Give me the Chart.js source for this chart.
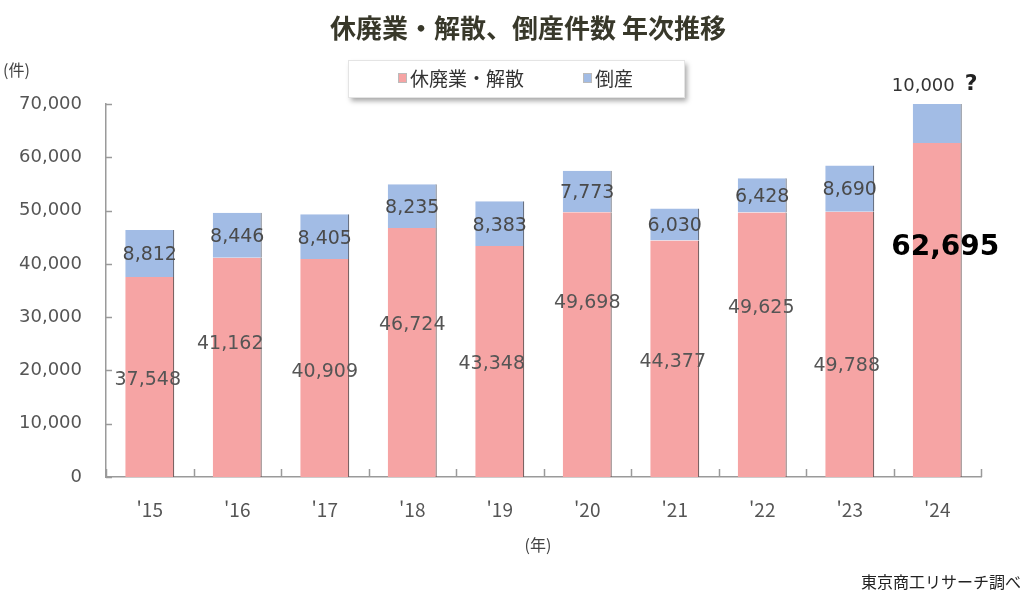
<!DOCTYPE html>
<html lang="ja">
<head>
<meta charset="utf-8">
<script src="https://cdn.jsdelivr.net/npm/chart.js@4.4.1/dist/chart.umd.min.js"></script>
<style>
body{margin:0;background:#fff}
#wrap{width:1027px;height:600px}
</style>
</head>
<body>
<div id="wrap"><canvas id="myChart" width="1027" height="600"></canvas></div>
<script>
// データ
var years = ["'15","'16","'17","'18","'19","'20","'21","'22","'23","'24"]
var kyuhaigyo = [37548,41162,40909,46724,43348,49698,44377,49625,49788,62695]
var tosan = [8812,8446,8405,8235,8383,7773,6030,6428,8690,7305]
var tosanLabels = ["8,812","8,446","8,405","8,235","8,383","7,773","6,030","6,428","8,690","10,000"]
var kyuhaigyoLabels = ["37,548","41,162","40,909","46,724","43,348","49,698","44,377","49,625","49,788","62,695"]
var seriesNames = ["休廃業・解散","倒産"]
var yMax = 70000
var yStep = 10000

// ラベルのずれ (px)
var redDx = [-2,-7,0,0,-8,0,-2,-1,-3,8]
var redDy = [3,-23,4,-27,3,-42,3,-37,22,-62]

var RED = "#F6A4A4"
var BLUE = "#A2BCE5"
var AXIS = "#9a9a9a"
var NUM_FONT = "'DejaVu Sans', Verdana, sans-serif"
var JP_FONT = "'Noto Sans CJK JP', sans-serif"

var extras = {
    id: "extras",
    beforeDraw: function(chart){
        var ctx = chart.ctx
        ctx.save()
        ctx.fillStyle = "#fff"
        ctx.fillRect(0,0,chart.width,chart.height)
        // タイトル
        ctx.fillStyle = "#38382a"
        ctx.font = "bold 26px " + JP_FONT
        ctx.textAlign = "center"
        ctx.textBaseline = "middle"
        ctx.fillText("休廃業・解散、倒産件数 年次推移", 528, 28)
        // 凡例
        ctx.shadowColor = "rgba(0,0,0,0.35)"
        ctx.shadowBlur = 5
        ctx.shadowOffsetX = 3
        ctx.shadowOffsetY = 4
        ctx.fillStyle = "#fff"
        ctx.fillRect(348,60,336,37)
        ctx.shadowColor = "transparent"
        ctx.strokeStyle = "#e4e4e4"
        ctx.lineWidth = 1
        ctx.strokeRect(348.5,60.5,336,37)
        var cols = [RED,BLUE]
        var lx = [398,583]
        ctx.font = "19px " + JP_FONT
        ctx.textAlign = "left"
        for(var i=0;i<2;i++){
            ctx.fillStyle = cols[i]
            ctx.fillRect(lx[i],73,9,10)
            ctx.strokeStyle = "#bbb"
            ctx.strokeRect(lx[i]+0.5,73.5,8,9)
            ctx.fillStyle = "#333"
            ctx.fillText(seriesNames[i], lx[i]+12, 79)
        }
        // 単位など
        ctx.font = "16px " + JP_FONT
        ctx.fillStyle = "#444"
        ctx.fillText("(件)", 3, 70)
        ctx.textAlign = "center"
        ctx.fillText("(年)", 538, 545)
        ctx.textAlign = "right"
        ctx.fillStyle = "#222"
        ctx.fillText("東京商工リサーチ調べ", 1021, 582)
        ctx.restore()
    },
    afterDraw: function(chart){
        var ctx = chart.ctx
        var a = chart.chartArea
        var ys = chart.scales.y
        ctx.save()
        ctx.strokeStyle = AXIS
        ctx.lineWidth = 1.5
        ctx.beginPath()
        // y軸の目盛り (内向き)
        for(var v=0;v<=yMax;v+=yStep){
            var py = Math.round(ys.getPixelForValue(v)) + 0.5
            ctx.moveTo(a.left, py)
            ctx.lineTo(a.left+6, py)
        }
        // x軸の目盛り (区切り)
        var n = years.length
        for(var i=0;i<=n;i++){
            var px = Math.round(a.left + i*(a.right-a.left)/n) + 0.5
            ctx.moveTo(px, a.bottom)
            ctx.lineTo(px, a.bottom-8)
        }
        ctx.stroke()

        // 数値ラベル
        var red = chart.getDatasetMeta(0).data
        var blue = chart.getDatasetMeta(1).data
        ctx.textAlign = "center"
        ctx.textBaseline = "middle"
        for(var i=0;i<n;i++){
            var r = red[i]
            var b = blue[i]
            if(i==n-1){
                ctx.fillStyle = "#000"
                ctx.font = "bold 28px " + NUM_FONT
                ctx.fillText(kyuhaigyoLabels[i], r.x+redDx[i], (r.y+r.base)/2+redDy[i])
                ctx.fillStyle = "#333"
                ctx.font = "18px " + NUM_FONT
                ctx.fillText(tosanLabels[i], b.x-14, b.y-18)
                ctx.fillStyle = "#222"
                ctx.font = "bold 22px " + NUM_FONT
                ctx.fillText("?", b.x+34, b.y-20)
            } else {
                ctx.fillStyle = "#555"
                ctx.font = "19px " + NUM_FONT
                ctx.fillText(kyuhaigyoLabels[i], r.x+redDx[i], (r.y+r.base)/2+redDy[i])
                ctx.fillStyle = "#4a4a4a"
                ctx.fillText(tosanLabels[i], b.x, (b.y+b.base)/2+2)
            }
        }
        ctx.restore()
    }
}

var char = new Chart(document.getElementById("myChart"), {
    type: "bar",
    data: {
        labels: years,
        datasets: [{
            label: seriesNames[0],
            data: kyuhaigyo,
            backgroundColor: RED,
            borderColor: "#6f5a5a",
            borderWidth: {top:0,right:1.2,bottom:0,left:0},
            borderSkipped: false,
            categoryPercentage: 1,
            barPercentage: 0.56
        },{
            label: seriesNames[1],
            data: tosan,
            backgroundColor: BLUE,
            borderColor: "#5f6878",
            borderWidth: {top:0,right:1.2,bottom:0,left:0},
            borderSkipped: false,
            categoryPercentage: 1,
            barPercentage: 0.56
        }]
    },
    options: {
        responsive: false,
        animation: false,
        layout: {padding: {top:104, right:46, bottom:73, left:0}},
        plugins: {
            legend: {display:false},
            title: {display:false},
            tooltip: {enabled:false}
        },
        scales: {
            x: {
                stacked: true,
                grid: {display:false, drawTicks:false},
                border: {display:true, color:AXIS, width:1.5},
                ticks: {padding:21, color:"#555", font:{family:JP_FONT, size:19}},
                afterFit: function(s){ s.height = 50 }
            },
            y: {
                stacked: true,
                min: 0,
                max: yMax,
                grid: {display:false, drawTicks:false},
                border: {display:true, color:AXIS, width:1.5},
                ticks: {
                    stepSize: yStep,
                    padding: 24,
                    color: "#555",
                    font: {family:NUM_FONT, size:18},
                    callback: function(v){ return v.toLocaleString("en-US") }
                },
                afterFit: function(s){ s.width = 106 }
            }
        }
    },
    plugins: [extras]
})
</script>
</body>
</html>
